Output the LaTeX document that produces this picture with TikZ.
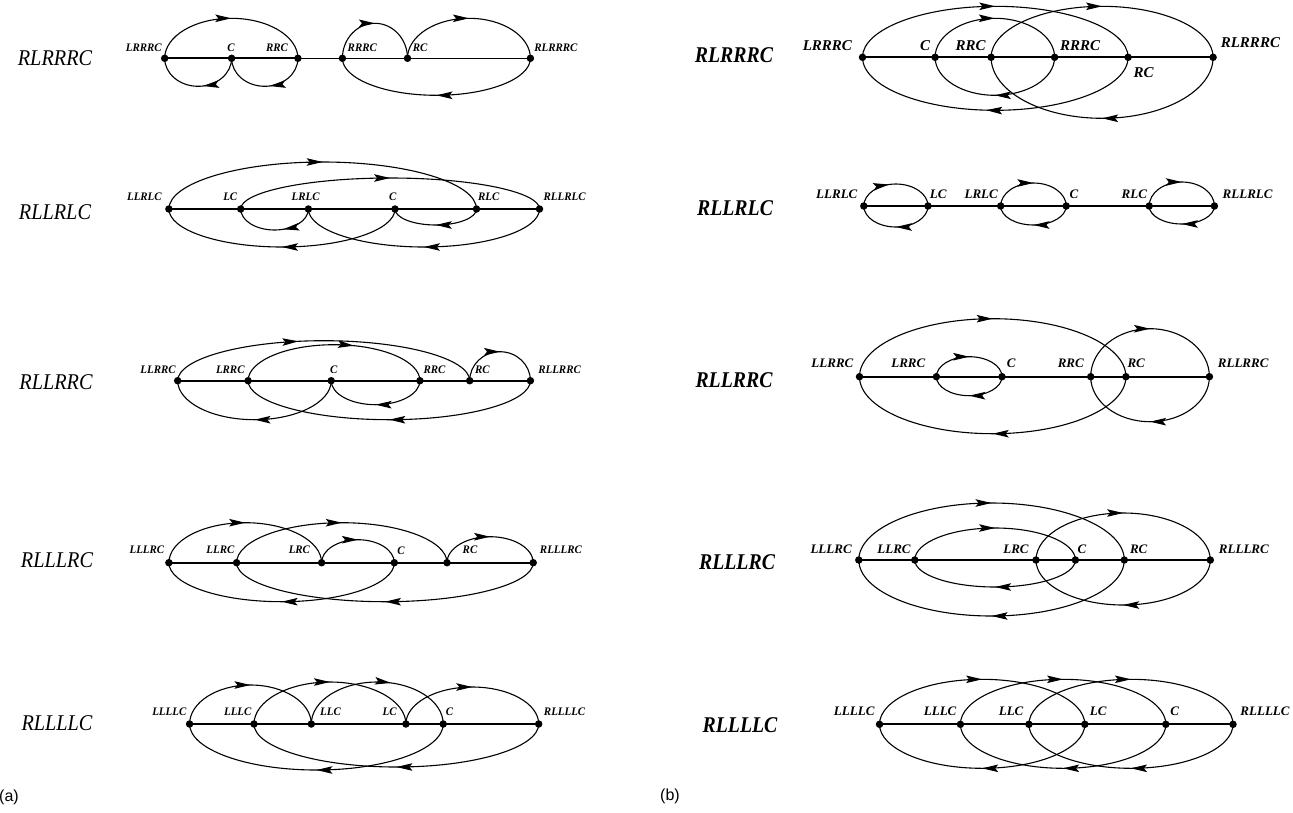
\documentclass[tikz,border=0pt]{standalone}
\usepackage{fontspec}
\usetikzlibrary{arrows.meta,decorations.markings,calc}
\setmainfont{Liberation Serif}
\newfontfamily\alabfam[FakeStretch=0.95]{Liberation Serif}
\newfontfamily\rowafam[FakeStretch=0.9]{Liberation Serif}
\newfontfamily\rowbfam[FakeStretch=0.88]{Liberation Serif}
\newfontfamily\sansfam{Liberation Sans}
\tikzset{
  dot/.style={circle,fill=black,inner sep=0pt,minimum size=7.5pt},
  axisline/.style={line width=2pt},
  thinaxis/.style={line width=1.2pt},
  flow/.style={line width=1.1pt,postaction={decorate},
    decoration={markings,mark=at position #1 with {\arrow{Stealth[length=16pt,width=7.5pt,inset=3pt]}}}},
  flow/.default=0.5,
  alab/.style={font=\alabfam\bfseries\itshape\fontsize{11.5}{13}\selectfont,inner sep=0pt},
  blab/.style={font=\bfseries\itshape\fontsize{13}{15}\selectfont,inner sep=0pt},
  blabbig/.style={font=\bfseries\itshape\fontsize{15}{17}\selectfont,inner sep=0pt},
  rowa/.style={font=\rowafam\itshape\fontsize{22.5}{26}\selectfont,inner sep=0pt},
  rowb/.style={font=\rowbfam\bfseries\itshape\fontsize{22.5}{26}\selectfont,inner sep=0pt},
  panel/.style={font=\sansfam\fontsize{16}{18}\selectfont,inner sep=0pt}
}
\newcommand\UpArc[4][0.5]{\draw[flow=#1] (#2.center) .. controls +(0,-0.5523*#4) and ($(#2.center)!0.2239!(#3.center)+(0,-#4)$) .. ($(#2.center)!0.5!(#3.center)+(0,-#4)$) .. controls ($(#2.center)!0.7761!(#3.center)+(0,-#4)$) and +(0,-0.5523*#4) .. (#3.center);}
\newcommand\LoArc[4][0.5]{\draw[flow=#1] (#2.center) .. controls +(0,0.5523*#4) and ($(#2.center)!0.2239!(#3.center)+(0,#4)$) .. ($(#2.center)!0.5!(#3.center)+(0,#4)$) .. controls ($(#2.center)!0.7761!(#3.center)+(0,#4)$) and +(0,0.5523*#4) .. (#3.center);}
\newcommand\PA[6]{\node[dot] (#1) at (#2,#3) {}; \node[alab] (#1l) at (#4,#5) {#6};}
\newcommand\PB[6]{\node[dot] (#1) at (#2,#3) {}; \node[blab] (#1l) at (#4,#5) {#6};}
\newcommand\PBB[6]{\node[dot] (#1) at (#2,#3) {}; \node[blabbig] (#1l) at (#4,#5) {#6};}
\begin{document}
\begin{tikzpicture}[x=1pt,y=-1pt]
\useasboundingbox (0,0) rectangle (1293,812);
% ---------------- panel (a) ----------------
\node[rowa] (ra1) at (55,58) {RLRRRC};
\node[rowa] (ra2) at (55,211.7) {RLLRLC};
\node[rowa] (ra3) at (56,381.7) {RLLRRC};
\node[rowa] (ra4) at (57,560) {RLLLRC};
\node[rowa] (ra5) at (57,723) {RLLLLC};
% row a1
\PA{a1A}{164.7}{58.3}{143.8}{47.5}{LRRRC}
\PA{a1B}{231.6}{58.3}{230.9}{47.5}{C}
\PA{a1C}{297.9}{58.3}{277}{47.5}{RRC}
\PA{a1D}{342.4}{58.3}{362.3}{47.5}{RRRC}
\PA{a1E}{407.5}{58.3}{420.2}{47.5}{RC}
\PA{a1F}{530.4}{58.3}{555.9}{47.5}{RLRRRC}
\draw[axisline] (a1A.center) -- (a1C.center);
\draw[line width=1.6pt] (a1C.center) -- (a1D.center);
\draw[thinaxis] (a1D.center) -- (a1F.center);
\UpArc{a1A}{a1C}{40}
\LoArc[0.45]{a1B}{a1A}{28}
\LoArc[0.45]{a1C}{a1B}{28}
\UpArc{a1D}{a1E}{35}
\UpArc{a1E}{a1F}{40}
\LoArc{a1F}{a1D}{37}
% row a2
\PA{a2A}{168.9}{209}{144.4}{196.5}{LLRLC}
\PA{a2B}{240.7}{209}{230.3}{196.5}{LC}
\PA{a2C}{308.4}{209}{305.6}{196.5}{LRLC}
\PA{a2D}{395}{209}{392.8}{196.5}{C}
\PA{a2E}{476.5}{209}{488.7}{196.5}{RLC}
\PA{a2F}{539.5}{209}{564.6}{196.5}{RLLRLC}
\draw[thinaxis] (a2A.center) -- (a2B.center);
\draw[axisline] (a2B.center) -- (a2F.center);
\UpArc{a2A}{a2E}{47}
\UpArc{a2B}{a2F}{31}
\LoArc[0.4]{a2C}{a2B}{21}
\LoArc{a2E}{a2D}{16}
\LoArc{a2D}{a2A}{38}
\LoArc{a2F}{a2C}{38}
% row a3
\PA{a3A}{177.7}{380.7}{158.1}{369.3}{LLRRC}
\PA{a3B}{248.1}{380.7}{230.3}{369.3}{LRRC}
\PA{a3C}{331.2}{380.7}{333.7}{369.3}{C}
\PA{a3D}{419.9}{380.7}{434.5}{369.3}{RRC}
\PA{a3E}{469.7}{380.7}{482.4}{369.3}{RC}
\PA{a3F}{530.4}{380.7}{559.6}{369.3}{RLLRRC}
\draw[axisline] (a3A.center) -- (a3F.center);
\UpArc[0.42]{a3A}{a3E}{40}
\UpArc[0.6]{a3B}{a3D}{36}
\UpArc{a3E}{a3F}{29}
\LoArc{a3D}{a3C}{24}
\LoArc{a3C}{a3A}{39}
\LoArc{a3F}{a3B}{39}
% row a4
\PA{a4A}{168.9}{562.7}{146.9}{550}{LLLRC}
\PA{a4B}{236.6}{562.7}{220.4}{550}{LLRC}
\PA{a4C}{321.6}{562.7}{299.4}{550}{LRC}
\PA{a4D}{394.3}{562.7}{400.9}{551}{C}
\PA{a4E}{447}{562.7}{470}{550}{RC}
\PA{a4F}{533.2}{562.7}{560.9}{550}{RLLLRC}
\draw[axisline] (a4A.center) -- (a4F.center);
\UpArc{a4A}{a4C}{40}
\UpArc{a4B}{a4E}{40}
\UpArc{a4C}{a4D}{23}
\UpArc{a4E}{a4F}{26}
\LoArc{a4D}{a4A}{39}
\LoArc{a4F}{a4B}{39}
% row a5
\PA{a5A}{189.6}{724}{169.3}{711.7}{LLLLC}
\PA{a5B}{254}{724}{237.8}{711.7}{LLLC}
\PA{a5C}{311.3}{724}{330.5}{711.7}{LLC}
\PA{a5D}{405.9}{724}{389.7}{711.7}{LC}
\PA{a5E}{443.2}{724}{449.4}{711.7}{C}
\PA{a5F}{538.7}{724}{564.6}{711.7}{RLLLLC}
\draw[axisline] (a5A.center) -- (a5F.center);
\UpArc{a5A}{a5C}{39}
\UpArc{a5B}{a5D}{42}
\UpArc[0.58]{a5C}{a5E}{42}
\UpArc{a5D}{a5F}{37}
\LoArc{a5E}{a5A}{46}
\LoArc{a5F}{a5B}{43}
\node[panel] (pa) at (9,797) {(a)};
% ---------------- panel (b) ----------------
\node[rowb] (rb1) at (734,55) {RLRRRC};
\node[rowb] (rb2) at (735,208) {RLLRLC};
\node[rowb] (rb3) at (734,380) {RLLRRC};
\node[rowb] (rb4) at (737,561.7) {RLLLRC};
\node[rowb] (rb5) at (740,725) {RLLLLC};
% row b1
\PBB{b1A}{862.5}{57.3}{827.4}{45.7}{LRRRC}
\PBB{b1B}{935.1}{57.3}{925.1}{45.7}{C}
\PBB{b1C}{991.1}{57.3}{970.6}{45.7}{RRC}
\PBB{b1D}{1054.6}{57.3}{1080.1}{45.7}{RRRC}
\PBB{b1E}{1128.1}{57.3}{1143.6}{73}{RC}
\PBB{b1F}{1213.1}{57.3}{1250.4}{42.7}{RLRRRC}
\draw[axisline] (b1A.center) -- (b1F.center);
\UpArc{b1A}{b1E}{51}
\LoArc[0.53]{b1E}{b1A}{53}
\UpArc{b1B}{b1D}{39}
\LoArc{b1D}{b1B}{38}
\UpArc{b1C}{b1F}{51}
\LoArc{b1F}{b1C}{61}
% row b2
\PB{b2A}{863.8}{206}{836.8}{194}{LLRLC}
\PB{b2B}{928}{206}{938.2}{194}{LC}
\PB{b2C}{1000.7}{206}{981.2}{194}{LRLC}
\PB{b2D}{1066.2}{206}{1073.9}{194}{C}
\PB{b2E}{1149.2}{206}{1134.3}{194}{RLC}
\PB{b2F}{1214.4}{206}{1247.6}{194}{RLLRLC}
\draw[axisline] (b2A.center) -- (b2F.center);
\UpArc[0.42]{b2A}{b2B}{22}
\LoArc{b2B}{b2A}{21}
\UpArc{b2C}{b2D}{23}
\LoArc{b2D}{b2C}{19}
\UpArc{b2E}{b2F}{24}
\LoArc{b2F}{b2E}{18}
% row b3
\PB{b3A}{859.5}{376.7}{832.4}{363.3}{LLRRC}
\PB{b3B}{936.4}{376.7}{908.3}{363.3}{LRRC}
\PB{b3C}{1002}{376.7}{1011.1}{363.3}{C}
\PB{b3D}{1090.7}{376.7}{1070.8}{363.3}{RRC}
\PB{b3E}{1125.9}{376.7}{1136.2}{363.3}{RC}
\PB{b3F}{1209.4}{376.7}{1243.2}{363.3}{RLLRRC}
\draw[axisline] (b3A.center) -- (b3F.center);
\UpArc{b3A}{b3E}{58}
\LoArc{b3E}{b3A}{57}
\UpArc{b3B}{b3C}{20}
\LoArc{b3C}{b3B}{19}
\UpArc{b3D}{b3F}{48}
\LoArc{b3F}{b3D}{45}
% row b4
\PB{b4A}{858.8}{560}{831.1}{549}{LLLRC}
\PB{b4B}{914.8}{560}{894}{549}{LLRC}
\PB{b4C}{1036}{560}{1016}{549}{LRC}
\PB{b4D}{1075.4}{560}{1082}{549}{C}
\PB{b4E}{1124.3}{560}{1138.7}{549}{RC}
\PB{b4F}{1210.3}{560}{1243.9}{549}{RLLLRC}
\draw[axisline] (b4A.center) -- (b4F.center);
\UpArc{b4A}{b4E}{57}
\LoArc{b4E}{b4A}{56}
\UpArc{b4B}{b4D}{32}
\LoArc{b4D}{b4B}{27}
\UpArc{b4C}{b4F}{47}
\LoArc{b4F}{b4C}{45}
% row b5
\PB{b5A}{879.5}{724.3}{854.2}{711.7}{LLLLC}
\PB{b5B}{960.4}{724.3}{940.1}{711.7}{LLLC}
\PB{b5C}{1028.9}{724.3}{1011.1}{711.7}{LLC}
\PB{b5D}{1084.8}{724.3}{1098.2}{711.7}{LC}
\PB{b5E}{1165.8}{724.3}{1174.8}{711.7}{C}
\PB{b5F}{1233}{724.3}{1265}{711.7}{RLLLLC}
\draw[axisline] (b5A.center) -- (b5F.center);
\UpArc{b5A}{b5D}{45}
\LoArc{b5D}{b5A}{44}
\UpArc{b5B}{b5E}{45}
\LoArc{b5E}{b5B}{44}
\UpArc{b5C}{b5F}{45}
\LoArc{b5F}{b5C}{44}
\node[panel] (pb) at (670,796) {(b)};
\end{tikzpicture}
\end{document}
